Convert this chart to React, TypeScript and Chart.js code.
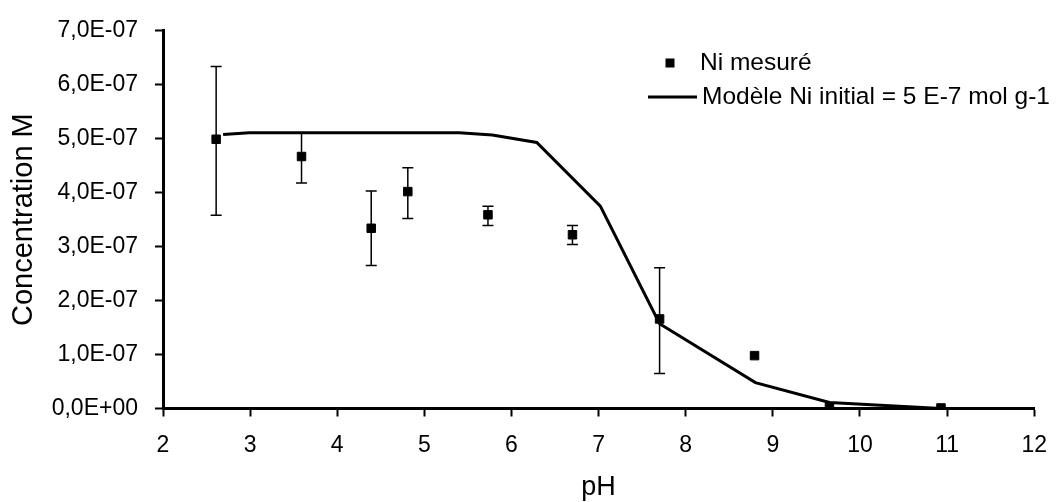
import React, { useEffect, useRef } from "react";
import { Chart, registerables } from "chart.js";

Chart.register(...registerables);

// Measured Ni (pH, concentration in M) with error bars
const measuredLabel = "Ni mesuré";
const measuredPH = [2.61, 3.59, 4.39, 4.81, 5.73, 6.7, 7.7, 8.79, 9.65, 10.93];
const measuredConc = [4.99e-7, 4.67e-7, 3.34e-7, 4.02e-7, 3.59e-7, 3.22e-7, 1.66e-7, 0.98e-7, 0.03e-7, 0.01e-7];
const errPlus = [1.35e-7, 0.43e-7, 0.69e-7, 0.44e-7, 0.16e-7, 0.17e-7, 0.95e-7, 0, 0, 0];
const errMinus = [1.41e-7, 0.49e-7, 0.69e-7, 0.5e-7, 0.2e-7, 0.18e-7, 1.01e-7, 0, 0, 0];

// Model curve
const modelLabel = "Modèle Ni initial = 5 E-7 mol g-1";
const modelPH = [2.69, 2.99, 5.4, 5.78, 6.29, 7.02, 7.7, 8.8, 9.65, 10.93];
const modelConc = [5.08e-7, 5.11e-7, 5.11e-7, 5.07e-7, 4.93e-7, 3.75e-7, 1.57e-7, 0.48e-7, 0.11e-7, 0.0];

// Axes
const xTitle = "pH";
const yTitle = "Concentration M";
const yTickLabels = ["0,0E+00", "1,0E-07", "2,0E-07", "3,0E-07", "4,0E-07", "5,0E-07", "6,0E-07", "7,0E-07"];

const FONT = "'Liberation Sans', Arial, Helvetica, sans-serif";

const errorBarPlugin = {
  id: "errorBars",
  beforeDatasetsDraw(chart: any) {
    const { ctx } = chart;
    const x = chart.scales.x;
    const y = chart.scales.y;
    ctx.save();
    ctx.strokeStyle = "#000";
    ctx.lineWidth = 1.5;
    measuredPH.forEach((ph, i) => {
      if (!errPlus[i] && !errMinus[i]) return;
      const px = x.getPixelForValue(ph);
      const top = y.getPixelForValue(measuredConc[i] + errPlus[i]);
      const bot = y.getPixelForValue(measuredConc[i] - errMinus[i]);
      const cap = 5.5;
      ctx.beginPath();
      ctx.moveTo(px, top);
      ctx.lineTo(px, bot);
      ctx.moveTo(px - cap, top);
      ctx.lineTo(px + cap, top);
      ctx.moveTo(px - cap, bot);
      ctx.lineTo(px + cap, bot);
      ctx.stroke();
    });
    ctx.restore();
  },
};

const legendPlugin = {
  id: "customLegend",
  afterDraw(chart: any) {
    const { ctx } = chart;
    const ds = chart.data.datasets;
    ctx.save();
    ctx.fillStyle = "#000";
    ctx.strokeStyle = "#000";
    ctx.font = `24.5px ${FONT}`;
    ctx.textBaseline = "middle";
    ctx.textAlign = "left";
    // row 1: marker
    ctx.fillRect(670 - 4.5, 63 - 4.5, 9, 9);
    ctx.fillText(ds[0].label, 700, 63);
    // row 2: line
    ctx.lineWidth = 3;
    ctx.beginPath();
    ctx.moveTo(648, 97);
    ctx.lineTo(697, 97);
    ctx.stroke();
    ctx.fillText(ds[1].label, 702, 97);
    ctx.restore();
  },
};

export default function App() {
  const canvasRef = useRef<HTMLCanvasElement | null>(null);

  useEffect(() => {
    if (!canvasRef.current) return;
    const chart = new Chart(canvasRef.current, {
      type: "scatter",
      data: {
        datasets: [
          {
            label: measuredLabel,
            data: measuredPH.map((x, i) => ({ x, y: measuredConc[i] })),
            pointStyle: "rect",
            pointRadius: 6,
            pointHoverRadius: 6,
            backgroundColor: "#000",
            borderColor: "#000",
            borderWidth: 1,
            showLine: false,
            order: 0,
          },
          {
            label: modelLabel,
            data: modelPH.map((x, i) => ({ x, y: modelConc[i] })),
            showLine: true,
            borderColor: "#000",
            backgroundColor: "#000",
            borderWidth: 3,
            pointRadius: 0,
            pointHoverRadius: 0,
            tension: 0,
            order: 1,
          },
        ],
      },
      options: {
        animation: false,
        responsive: false,
        devicePixelRatio: 1,
        layout: { padding: { left: 0, right: 16, top: 21, bottom: 0 } },
        plugins: {
          legend: { display: false },
          tooltip: { enabled: false },
        },
        scales: {
          x: {
            type: "linear",
            min: 2,
            max: 12,
            ticks: {
              stepSize: 1,
              autoSkip: false,
              maxRotation: 0,
              color: "#000",
              padding: 15,
              font: { family: FONT, size: 23 },
            },
            grid: {
              drawOnChartArea: false,
              drawTicks: true,
              tickLength: 8,
              tickColor: "#000",
              tickWidth: 2,
            },
            border: { color: "#000", width: 3 },
            title: {
              display: true,
              text: xTitle,
              color: "#000",
              font: { family: FONT, size: 27, lineHeight: 1 },
              padding: { top: 0, bottom: 1 },
            },
            afterFit: (s: any) => {
              s.height = 93.5;
            },
          },
          y: {
            type: "linear",
            min: 0,
            max: 7e-7,
            ticks: {
              stepSize: 1e-7,
              autoSkip: false,
              color: "#000",
              padding: 17,
              font: { family: FONT, size: 23 },
              callback: (_v: any, i: number) => yTickLabels[i],
            },
            grid: {
              drawOnChartArea: false,
              drawTicks: true,
              tickLength: 8,
              tickColor: "#000",
              tickWidth: 2,
            },
            border: { color: "#000", width: 3 },
            title: {
              display: true,
              text: yTitle,
              color: "#000",
              font: { family: FONT, size: 29, lineHeight: 1 },
              padding: { top: 9.5, bottom: 0 },
            },
            afterFit: (s: any) => {
              s.width = 163;
            },
          },
        },
      } as any,
      plugins: [errorBarPlugin, legendPlugin],
    });
    return () => chart.destroy();
  }, []);

  return (
    <div style={{ position: "absolute", left: 0, top: 0, width: 1062, height: 502, background: "#fff" }}>
      <canvas ref={canvasRef} width={1062} height={502} style={{ display: "block", width: 1062, height: 502 }} />
    </div>
  );
}
